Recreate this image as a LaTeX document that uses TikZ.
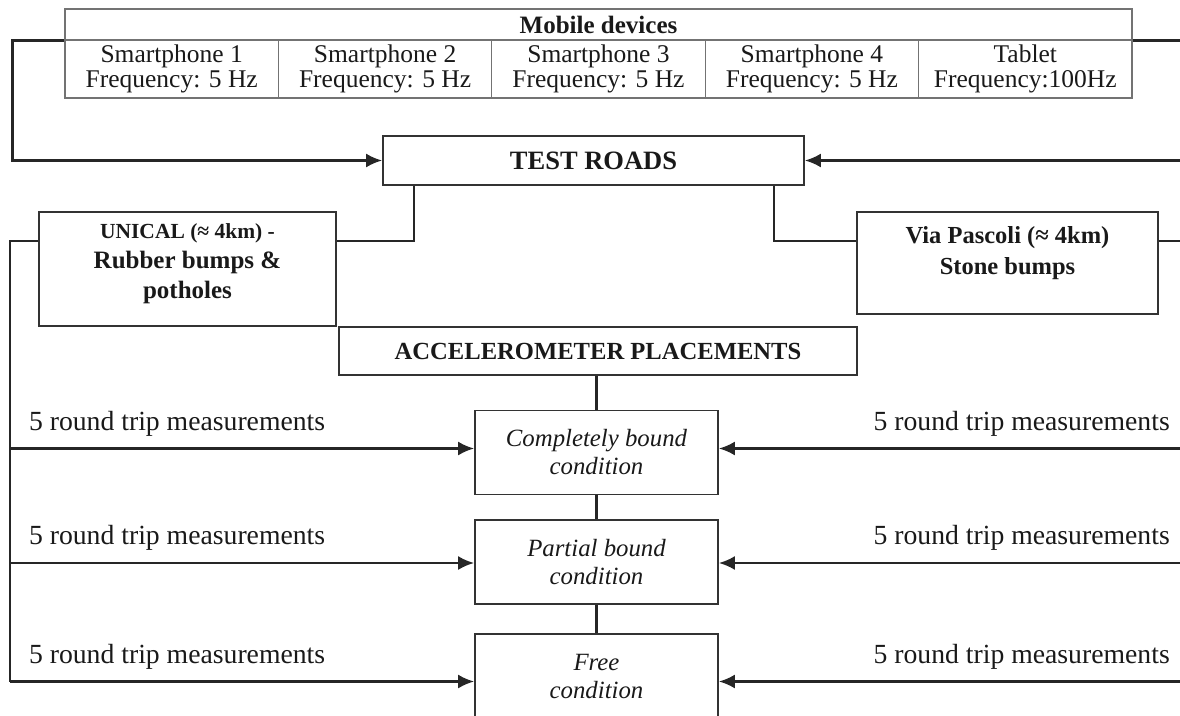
\documentclass[tikz,border=0pt]{standalone}
\usepackage{fontspec}
\setmainfont{Liberation Serif}
\usetikzlibrary{arrows.meta,positioning}

\begin{document}
\begin{tikzpicture}[x=1pt,y=-1pt,
	box/.style={draw=black!80,line width=1.7pt,align=center,inner sep=0pt,text=black!90},
	cell/.style={draw=black!55,line width=1.3pt,align=center,inner sep=0pt,text=black!90,minimum width=213.4pt,minimum height=58pt,font=\fontsize{25.5}{25}\selectfont},
	cond/.style={box,minimum width=243pt,minimum height=84pt,font=\itshape\fontsize{24.8}{28}\selectfont},
	wire/.style={draw=black!85,line width=2.4pt},
	feed/.style={wire,-{Latex[length=16pt,width=14pt]}},
	lbl/.style={font=\fontsize{27.7}{30}\selectfont,text=black!90,inner sep=0pt}
]

	\useasboundingbox (0,0) rectangle (1180,715);
	\clip (0,0) rectangle (1180,715);

	% mobile devices table
	\node[cell,minimum width=1067pt,minimum height=31pt,font=\bfseries\fontsize{25}{28}\selectfont] (head) at (598.5,24.5) {Mobile devices};
	\foreach \i/\name/\txt in {1/sp1/{Smartphone 1\\Frequency: 5 Hz},2/sp2/{Smartphone 2\\Frequency: 5 Hz},3/sp3/{Smartphone 3\\Frequency: 5 Hz},4/sp4/{Smartphone 4\\Frequency: 5 Hz},5/tab/{Tablet\\Frequency:100Hz}} {
		\node[cell] (\name) at ({65+213.4*(\i-0.5)},69) {\txt};
	}

	% roads
	\node[box,minimum width=421pt,minimum height=49pt,font=\bfseries\fontsize{26.5}{30}\selectfont] (roads) at (593.5,160.5) {TEST ROADS};
	\node[box,minimum width=297pt,minimum height=114pt,font=\bfseries\fontsize{25}{30}\selectfont,text depth=16pt] (uni) at (187.5,269) {{\fontsize{21.5}{30}\selectfont UNICAL (≈ 4km) -}\\Rubber bumps \&\\potholes};
	\node[box,minimum width=301pt,minimum height=102pt,font=\bfseries\fontsize{24.5}{31}\selectfont,text depth=26pt] (vp) at (1007.5,263) {Via Pascoli (≈ 4km)\\Stone bumps};

	% placements
	\node[box,minimum width=518pt,minimum height=48pt,font=\bfseries\fontsize{24.6}{28}\selectfont] (accel) at (598,351) {ACCELEROMETER PLACEMENTS};
	\node[cond] (cb) at (596.5,452.5) {Completely bound\\condition};
	\node[cond] (pb) at (596.5,562) {Partial bound\\condition};
	\node[cond] (fc) at (596.5,676) {Free\\condition};

	\draw[wire] (cb.north) -- (cb.north |- accel.south);
	\draw[wire] (pb.north) -- (cb.south);
	\draw[wire] (fc.north) -- (pb.south);

	% devices to roads
	\draw[feed] (head.south west) -- ++(-52,0) |- (roads.west);
	\draw[feed] (head.south east) -- ++(60,0) |- (roads.east);

	\draw[wire] ([xshift=32pt]roads.south west) |- ([yshift=-30pt]uni.north east);
	\draw[wire] ([xshift=-31pt]roads.south east) |- ([yshift=-30pt]vp.north west);

	% round trips
	\coordinate (lt) at ([yshift=-30pt]uni.north west);
	\coordinate (rt) at ([yshift=-30pt]vp.north east);
	\coordinate (lb) at (10,682);
	\coordinate (rb) at (1192,682);
	\draw[wire] (lt) -| (lb);
	\draw[wire] (rt) -| (rb);

	\foreach \c/\dy in {cb/4,pb/-1,fc/-5.5} {
		\coordinate (\c L) at ([yshift=\dy pt]\c.west);
		\coordinate (\c R) at ([yshift=\dy pt]\c.east);
		\draw[feed] (\c L -| lb) -- node[lbl,pos=.36,above=11pt] {5 round trip measurements} (\c L);
		\draw[feed] (\c R -| rb) -- node[lbl,pos=.36,above=11pt] {5 round trip measurements} (\c R);
	}
\end{tikzpicture}
\end{document}
